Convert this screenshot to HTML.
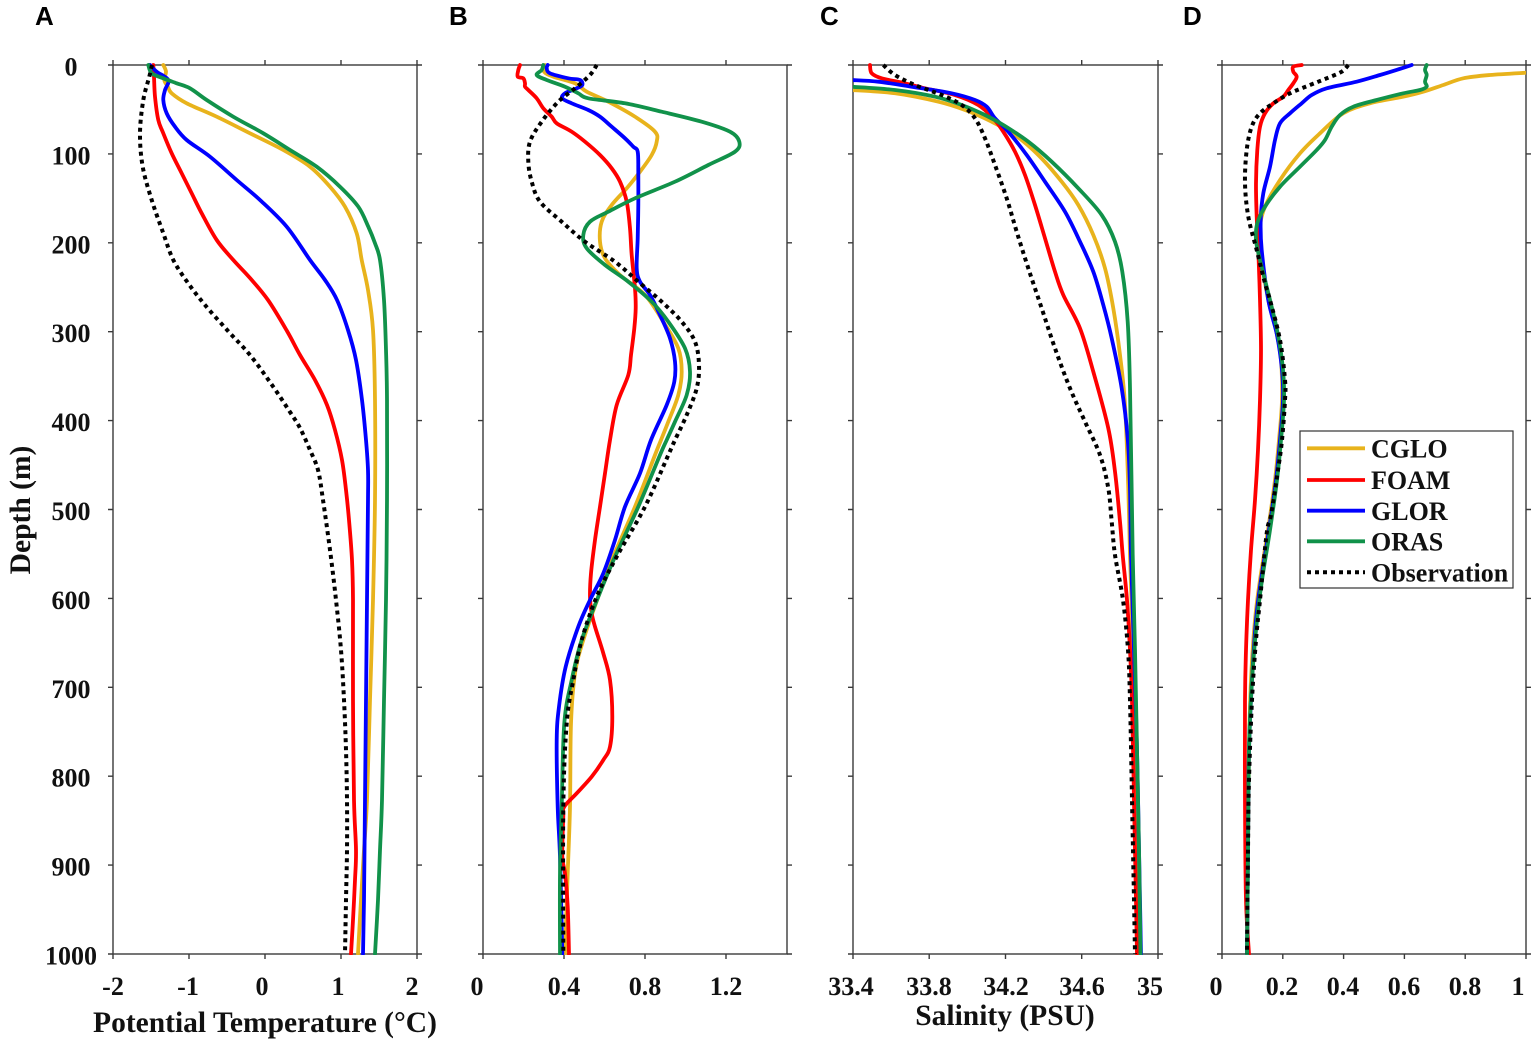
<!DOCTYPE html>
<html>
<head>
<meta charset="utf-8">
<style>
html,body{margin:0;padding:0;background:#fff;}
svg{display:block;}
.tl{font-family:"Liberation Serif",serif;font-weight:bold;font-size:26px;fill:#111;}
.al{font-family:"Liberation Serif",serif;font-weight:bold;font-size:29.5px;fill:#111;}
.pl{font-family:"Liberation Sans",sans-serif;font-weight:bold;font-size:26px;fill:#000;}
.lg{font-family:"Liberation Serif",serif;font-weight:bold;font-size:26px;fill:#111;}
.ax{fill:none;stroke:#3a3a3a;stroke-width:1.4;}
.s{fill:none;stroke-width:3.8;stroke-linejoin:round;stroke-linecap:round;}
.y{stroke:#E8B31C;}
.r{stroke:#FF0000;}
.b{stroke:#0000FF;}
.g{stroke:#11924A;}
.k{stroke:#000;stroke-width:4;stroke-dasharray:4 4;stroke-linecap:butt;}
</style>
</head>
<body>
<svg id="fig" width="1535" height="1045" viewBox="0 0 1535 1045" xmlns="http://www.w3.org/2000/svg">
<rect width="1535" height="1045" fill="#fff"/>
<defs>
<clipPath id="cA"><rect x="113" y="63" width="304" height="892"/></clipPath>
<clipPath id="cB"><rect x="483" y="63" width="304" height="892"/></clipPath>
<clipPath id="cC"><rect x="853" y="63" width="305" height="892"/></clipPath>
<clipPath id="cD"><rect x="1222" y="63" width="304" height="892"/></clipPath>
</defs>

<text class="pl" x="35" y="25">A</text>
<text class="pl" x="449" y="25">B</text>
<text class="pl" x="820" y="25">C</text>
<text class="pl" x="1183" y="25">D</text>

<!-- Panel A -->
<rect class="ax" x="113" y="65" width="304" height="889"/>
<path class="ax" d="M108 65h5M108 153.9h5M108 242.8h5M108 331.7h5M108 420.6h5M108 509.5h5M108 598.4h5M108 687.3h5M108 776.2h5M108 865.1h5M108 954h5
M417 65h5M417 153.9h5M417 242.8h5M417 331.7h5M417 420.6h5M417 509.5h5M417 598.4h5M417 687.3h5M417 776.2h5M417 865.1h5M417 954h5
M113 60v5M189 60v5M265 60v5M341 60v5M417 60v5
M113 954v5M189 954v5M265 954v5M341 954v5M417 954v5"/>
<g clip-path="url(#cA)">
<polyline class="s y" points="163.3,65 166,71.7 164.3,80 168,87 171.7,93.3 186.7,103.3 216.7,116.7 250,133.3 283.3,150 310,166.7 330,186.7 345,206.7 356.7,233.3 361.7,260 368,290 373,330 375,400 375,500 373,600 370,700 367,800 364,850 361,900 358,954"/>
<polyline class="s r" points="153.3,65 154,76.7 155,96.7 158.3,120 163.3,133.3 171.7,153.3 181.7,173.3 191.7,193.3 201.7,213.3 216.7,240 233.3,260 250,278 268,300 287,331 300,355 315,380 327,405 335,430 342,460 346,490 349,520 352,560 353,600 353,700 354,800 356,850 355,880 353,920 351,954"/>
<polyline class="s b" points="150,65 156.7,71.7 168.3,80 165,90 163.3,100 166.7,113.3 175,126.7 186.7,140 210,156.7 236.7,180 260,200 286.7,226.7 310,260 325,280 337,300 348,330 356,360 362,400 366,440 368,470 368,500 367,600 366,700 365,800 364,900 363,954"/>
<polyline class="s g" points="148.3,65 151.7,73.3 163.3,78.3 176.7,83.3 190,88.3 206.7,100 233.3,116.7 263.3,133.3 290,150 316.7,166.7 340,186.7 358.3,206.7 368.3,226.7 375,243.3 380,260 384,300 386,350 387,400 387,500 386,600 384,700 382,800 380,850 378,900 375,954"/>
<polyline class="s k" points="152,65 149.3,76.7 143.3,100 140,133.3 142.7,166.7 151.7,200 163.3,233.3 173.3,260 188,283 205,305 228,331 250,355 272,385 290,412 300,428 310,450 318,470 323,500 330,550 336,600 341,650 344,700 346,750 347,800 347,850 346,900 345,954"/>
</g>
<g class="tl" text-anchor="middle">
<text x="71" y="75.5">0</text>
<text x="71" y="164.4">100</text>
<text x="71" y="253.3">200</text>
<text x="71" y="342.2">300</text>
<text x="71" y="431.1">400</text>
<text x="71" y="520">500</text>
<text x="71" y="608.9">600</text>
<text x="71" y="697.8">700</text>
<text x="71" y="786.7">800</text>
<text x="71" y="875.6">900</text>
<text x="71" y="964.5">1000</text>
<text x="113" y="995">-2</text>
<text x="188" y="995">-1</text>
<text x="262" y="995">0</text>
<text x="338" y="995">1</text>
<text x="412" y="995">2</text>
<text x="477" y="995">0</text>
<text x="564" y="995">0.4</text>
<text x="645" y="995">0.8</text>
<text x="726" y="995">1.2</text>
<text x="851" y="995">33.4</text>
<text x="929" y="995">33.8</text>
<text x="1006" y="995">34.2</text>
<text x="1082" y="995">34.6</text>
<text x="1150" y="995">35</text>
<text x="1216" y="995">0</text>
<text x="1282" y="995">0.2</text>
<text x="1343" y="995">0.4</text>
<text x="1404" y="995">0.6</text>
<text x="1465" y="995">0.8</text>
<text x="1518" y="995">1</text>
</g>
<text class="al" x="265" y="1032" text-anchor="middle">Potential Temperature (°C)</text>
<text class="al" x="1005" y="1025" text-anchor="middle">Salinity (PSU)</text>
<text class="al" text-anchor="middle" transform="translate(30,510) rotate(-90)">Depth (m)</text>

<!-- Panel B -->
<rect class="ax" x="483" y="65" width="304" height="889"/>
<path class="ax" d="M478 65h5M478 153.9h5M478 242.8h5M478 331.7h5M478 420.6h5M478 509.5h5M478 598.4h5M478 687.3h5M478 776.2h5M478 865.1h5M478 954h5
M787 65h5M787 153.9h5M787 242.8h5M787 331.7h5M787 420.6h5M787 509.5h5M787 598.4h5M787 687.3h5M787 776.2h5M787 865.1h5M787 954h5
M483 60v5M564 60v5M645 60v5M726 60v5
M483 954v5M564 954v5M645 954v5M726 954v5"/>
<g clip-path="url(#cB)">
<polyline class="s y" points="545,65 544,71.7 553.3,76.7 575,83.3 586.7,91.7 608.3,101.7 635,116.7 655,131.7 656.7,141.7 651.7,155 640,171.7 626.7,188.3 611.7,205 601.7,221.7 600,241.7 605,258.3 620,275 645,295 663.3,321.7 678.3,348.3 681.7,371.7 678.3,395 668.3,421.7 661,440 655,455 635,506.7 613.3,556.7 598.3,596.7 583.3,640 575,673.3 571,723.3 570,806.7 567.7,873.3 565,954"/>
<polyline class="s r" points="520,65 518.3,70 517.7,76.7 523.3,78.3 525,83.3 525,86.7 528.3,90 536.7,98.3 543.3,108.3 551.7,116.7 556.7,123.3 571.7,131.7 585,141.7 600,155 611.7,168.3 620,181.7 626.7,201.7 630,228.3 631.7,255 635,288.3 635.7,308.3 634.3,328.3 631,355 628.3,375 616.7,405 610,440 605,473.3 600,506.7 595,540 591,573.3 590,596.7 591.7,613.3 595,626.7 603.3,653.3 610,680 612.3,716.7 610,746.7 603.3,760 591.7,776.7 576.7,793.3 564.3,806.7 563.3,816.7 562.3,856.7 565,873.3 567.7,906.7 569,954"/>
<polyline class="s b" points="547.7,65 546.7,68.3 550,73.3 568.3,78.3 580,80 582.3,85 576.7,88.3 565,93.3 562.3,98.3 571.7,103.3 588.3,110 600,116.7 611.7,126.7 625,138.3 633.3,146.7 637.7,151.7 638.3,171.7 638.3,205 637.7,238.3 636.7,268.3 640,281.7 650,295 660,315 670,338.3 675,361.7 674.3,381.7 666.7,405 651,440 640,473.3 625,506.7 615,540 603.3,573.3 590,600 578.3,626.7 565.7,666.7 559,706.7 556.7,740 557.7,806.7 560,856.7 562.3,954"/>
<polyline class="s g" points="543.3,65 541.7,70 536.7,75 546.7,80 565,86.7 578.3,93.3 588.3,98.3 625,103.3 661.7,111.7 701.7,121.7 730,131.7 739.3,141.7 735,151.7 708.3,165 675,181.7 635,198.3 608.3,211.7 590,221.7 583.3,235 586.7,248.3 605,265 628.3,281.7 651.7,301.7 668.3,321.7 685,348.3 690,371.7 686.7,395 675,421.7 666.7,440 660,455 638.3,506.7 615,556.7 598.3,596.7 581.7,640 571.7,680 564.3,723.3 561.7,806.7 560,873.3 560,954"/>
<polyline class="s k" points="596.7,65 590,75 575,88.3 558.3,101.7 541.7,121.7 530,141.7 528.3,161.7 531.7,181.7 540,201.7 561.7,221.7 585,241.7 615,261.7 638.3,281.7 661.7,301.7 681.7,321.7 695,341.7 699,365 696.7,388.3 686.7,415 675,440 668.3,455 645,506.7 616.7,556.7 596.7,596.7 581.7,640 573.3,680 566.7,723.3 563.3,806.7 563.3,954"/>
</g>

<!-- Panel C -->
<rect class="ax" x="853" y="65" width="305" height="889"/>
<path class="ax" d="M848 65h5M848 153.9h5M848 242.8h5M848 331.7h5M848 420.6h5M848 509.5h5M848 598.4h5M848 687.3h5M848 776.2h5M848 865.1h5M848 954h5
M1158 65h5M1158 153.9h5M1158 242.8h5M1158 331.7h5M1158 420.6h5M1158 509.5h5M1158 598.4h5M1158 687.3h5M1158 776.2h5M1158 865.1h5M1158 954h5
M853 60v5M929.2 60v5M1005.5 60v5M1081.7 60v5M1158 60v5
M853 954v5M929.2 954v5M1005.5 954v5M1081.7 954v5M1158 954v5"/>
<g clip-path="url(#cC)">
<polyline class="s y" points="851.7,90 895,93.3 938.3,101.7 965,110 991.7,121.7 1015,135 1038.3,155 1061.7,181.7 1078.3,205 1093.3,235 1105,268.3 1113.3,308.3 1120,355 1125,405 1128.3,488.3 1130,555 1133,650 1135,750 1137,850 1139,954"/>
<polyline class="s r" points="870,65 871.7,73.3 881.7,78.3 905,83.3 925,88.3 955,95 978.3,105 993.3,118.3 1003.3,131.7 1015,151.7 1025,175 1035,205 1045,238.3 1055,271.7 1063.3,295 1080,328.3 1093.3,371.7 1108.3,428.3 1115,471.7 1120,521.7 1122.7,555 1127,600 1130,650 1132,700 1134,800 1136,900 1137,954"/>
<polyline class="s b" points="851.7,80 878.3,81.7 911.7,86.7 951.7,93.3 975,100 986.7,106.7 995,118.3 1008.3,131.7 1026.7,155 1045,181.7 1065,211.7 1080,241.7 1093.3,271.7 1103.3,305 1111.7,338.3 1121.7,388.3 1127.7,438.3 1130,488.3 1131,555 1134,650 1137,750 1139,850 1141,954"/>
<polyline class="s g" points="851.7,86.7 895,90 935,96.7 961.7,105 985,115 1003.3,125 1028.3,141.7 1051.7,161.7 1078.3,188.3 1101.7,215 1115,241.7 1122.3,271.7 1127.7,321.7 1130,388.3 1132.7,555 1135,650 1137,750 1139,850 1140.5,954"/>
<polyline class="s k" points="883.3,65 895,75 915,85 941.7,95 961.7,105 975,118.3 985,138.3 995,165 1006.7,198.3 1016.7,231.7 1028.3,268.3 1041.7,308.3 1055,348.3 1070,388.3 1085,421.7 1100,455 1108.3,488.3 1111.7,521.7 1115,555 1123,600 1128,650 1130,700 1132,800 1134,900 1135,954"/>
</g>

<!-- Panel D -->
<rect class="ax" x="1222" y="65" width="304" height="889"/>
<path class="ax" d="M1217 65h5M1217 153.9h5M1217 242.8h5M1217 331.7h5M1217 420.6h5M1217 509.5h5M1217 598.4h5M1217 687.3h5M1217 776.2h5M1217 865.1h5M1217 954h5
M1526 65h5M1526 153.9h5M1526 242.8h5M1526 331.7h5M1526 420.6h5M1526 509.5h5M1526 598.4h5M1526 687.3h5M1526 776.2h5M1526 865.1h5M1526 954h5
M1222 60v5M1282.8 60v5M1343.6 60v5M1404.4 60v5M1465.2 60v5M1526 60v5
M1222 954v5M1282.8 954v5M1343.6 954v5M1404.4 954v5M1465.2 954v5M1526 954v5"/>
<g clip-path="url(#cD)">
<polyline class="s y" points="1527,72.7 1490,75 1463.3,78.3 1443.3,85 1423.3,91.7 1403.3,96.7 1370,103.3 1343.3,113.3 1320,133.3 1300,153.3 1280,180 1265,206.7 1260,226.7 1260,250 1268.3,300 1276,330 1281,360 1282,400 1279,440 1275,480 1268,530 1260,580 1255,620 1251,680 1249,750 1248,850 1247,954"/>
<polyline class="s r" points="1301.7,65 1293.3,66.7 1293.3,71.7 1296.7,76.7 1293.3,83.3 1288.3,90 1283.3,96.7 1273.3,103.3 1265,113.3 1260,126.7 1257.3,150 1256,183.3 1256.7,216.7 1258.3,250 1260,300 1261,350 1260,400 1258,450 1255,500 1251,550 1248,600 1246,650 1245,700 1245,800 1246,900 1249,954"/>
<polyline class="s b" points="1411.7,65 1401.7,68.3 1380,75 1356.7,81.7 1326.7,88.3 1311.7,95 1301.7,103.3 1290,113.3 1280,123.3 1275,140 1270,166.7 1263.3,193.3 1260.7,220 1261.7,250 1268.3,300 1277,335 1282,370 1283,400 1280,440 1276,480 1269,530 1261,580 1256,620 1252,680 1249,750 1248,850 1247,954"/>
<polyline class="s g" points="1426.7,65 1425,70 1426.7,75 1425,81.7 1426.7,86.7 1420,90 1403.3,93.3 1376.7,100 1353.3,106.7 1340,115 1331.7,126.7 1325,140 1316.7,150 1300,166.7 1280,186.7 1265,206.7 1257.3,223.3 1256,240 1260,260 1270,300 1278,335 1283,370 1284,400 1281,440 1277,480 1270,530 1262,580 1257,620 1252,680 1249,750 1248,850 1247,954"/>
<polyline class="s k" points="1348.3,65 1341.7,71.7 1326.7,78.3 1310,85 1290,93.3 1273.3,103.3 1260,113.3 1251.7,126.7 1246.7,150 1245,183.3 1248.3,216.7 1256.7,250 1265,283.3 1270,300 1280,340 1285,380 1285,400 1282,440 1278,470 1271,515 1266.7,533.3 1260,600 1256,640 1252,700 1249,780 1248,850 1247,954"/>
</g>

<!-- Legend -->
<rect x="1300" y="431" width="213" height="157" fill="#fff" stroke="#333" stroke-width="1.2"/>
<line class="s y" x1="1307" y1="448.3" x2="1365" y2="448.3" style="stroke-linecap:butt"/>
<line class="s r" x1="1307" y1="480" x2="1365" y2="480" style="stroke-linecap:butt"/>
<line class="s b" x1="1307" y1="510.7" x2="1365" y2="510.7" style="stroke-linecap:butt"/>
<line class="s g" x1="1307" y1="541.3" x2="1365" y2="541.3" style="stroke-linecap:butt"/>
<line class="s k" x1="1307" y1="572.3" x2="1365" y2="572.3"/>
<g class="lg">
<text x="1371" y="457.5">CGLO</text>
<text x="1371" y="489">FOAM</text>
<text x="1371" y="520">GLOR</text>
<text x="1371" y="550.5">ORAS</text>
<text x="1371" y="581.5">Observation</text>
</g>
</svg>
<script>
(function(){
  try{
    var NS="http://www.w3.org/2000/svg";
    var pls=document.querySelectorAll("#fig polyline");
    for(var i=0;i<pls.length;i++){
      var pl=pls[i];
      var raw=pl.getAttribute("points").trim().split(/\s+/);
      var p=[];
      for(var j=0;j<raw.length;j++){var c=raw[j].split(",");p.push([+c[0],+c[1]]);}
      if(p.length<3) continue;
      var d="M"+p[0][0]+" "+p[0][1];
      var t=0.5;
      for(var j=0;j<p.length-1;j++){
        var p0=p[j>0?j-1:0],p1=p[j],p2=p[j+1],p3=p[j+2<p.length?j+2:p.length-1];
        var c1x=p1[0]+(p2[0]-p0[0])*t/3,c1y=p1[1]+(p2[1]-p0[1])*t/3;
        var c2x=p2[0]-(p3[0]-p1[0])*t/3,c2y=p2[1]-(p3[1]-p1[1])*t/3;
        d+="C"+c1x.toFixed(2)+" "+c1y.toFixed(2)+" "+c2x.toFixed(2)+" "+c2y.toFixed(2)+" "+p2[0]+" "+p2[1];
      }
      var path=document.createElementNS(NS,"path");
      path.setAttribute("d",d);
      path.setAttribute("class",pl.getAttribute("class"));
      pl.parentNode.replaceChild(path,pl);
    }
  }catch(e){}
})();
</script>
</body>
</html>
